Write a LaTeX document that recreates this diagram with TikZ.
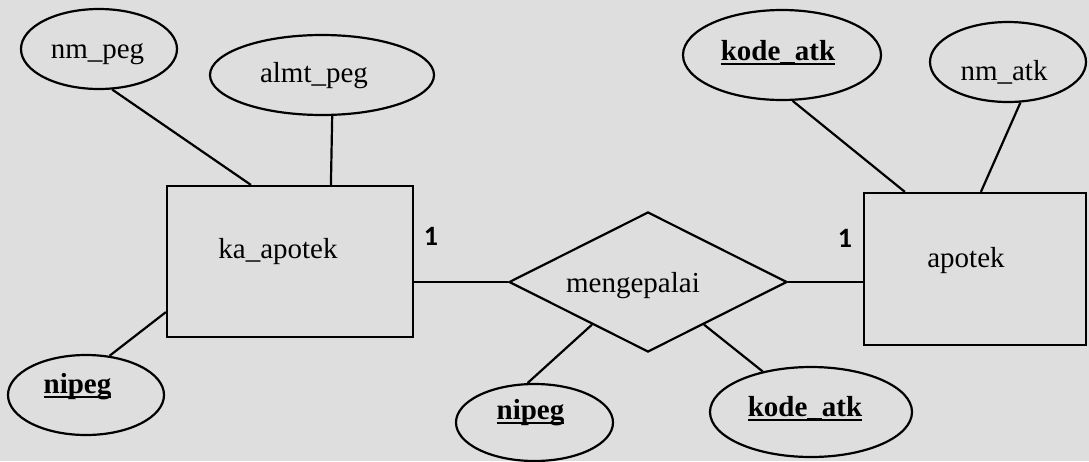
\documentclass[tikz,border=0pt]{standalone}
\usepackage{fontspec}
\setmainfont{Liberation Serif}
\newfontfamily\cardfont{Carlito}
\usetikzlibrary{shapes.geometric,calc}
\definecolor{marble}{RGB}{222,222,222}
\newcommand{\keyattr}[1]{\setbox0\hbox{\bfseries #1}\rlap{\rule[-5pt]{\wd0}{2pt}}\box0}
\begin{document}
\begin{tikzpicture}[x=1pt,y=-1pt,
  conn/.style={line width=2.2pt, black},
  attr/.style={ellipse, draw, line width=2.2pt, inner sep=0pt},
  entity/.style={rectangle, draw, line width=2.2pt, inner sep=0pt},
  rel/.style={diamond, draw, line width=2.2pt, inner sep=0pt, aspect=2},
  lbl/.style={anchor=base, inner sep=0pt, font=\fontsize{29}{34}\selectfont},
  card/.style={anchor=base, inner sep=0pt}]
\fill[marble] (0,0) rectangle (1089,461);
\useasboundingbox (0,0) rectangle (1089,461);

% entities
\node[entity, minimum width=246pt, minimum height=151pt] (ka) at (290,261.5) {};
\node[entity, minimum width=222pt, minimum height=152pt] (ap) at (975,269) {};
% relationship
\node[rel, minimum width=278pt, minimum height=140pt] (dia) at (648,282) {};
% attributes
\node[attr, minimum width=156pt, minimum height=80pt] (nmpeg) at (99,49) {};
\node[attr, minimum width=224pt, minimum height=80pt] (almt) at (322,75) {};
\node[attr, minimum width=156pt, minimum height=80pt] (nipegL) at (86,395) {};
\node[attr, minimum width=157pt, minimum height=77pt] (nipegB) at (534.5,422.5) {};
\node[attr, minimum width=202pt, minimum height=90pt] (kodeB) at (811,412) {};
\node[attr, minimum width=198pt, minimum height=90pt] (kodeT) at (782,55) {};
\node[attr, minimum width=156pt, minimum height=80pt] (nmatk) at (1008,62) {};

% texts
\node[lbl] (tnmpeg) at (97.5,58) {nm\_peg};
\node[lbl] (talmt) at (314,82) {almt\_peg};
\node[lbl] (tka) at (278,258) {ka\_apotek};
\node[lbl] (tnipegL) at (77.5,393) {\keyattr{nipeg}};
\node[lbl] (tdia) at (633,292) {mengepalai};
\node[lbl] (tnipegB) at (530.5,419) {\keyattr{nipeg}};
\node[lbl] (tkodeB) at (805,416) {\keyattr{kode\_atk}};
\node[lbl] (tkodeT) at (778,60) {\keyattr{kode\_atk}};
\node[lbl] (tnmatk) at (1004,80) {nm\_atk};
\node[lbl] (tap) at (966,267) {apotek};
\node[card] (c1) at (431,245) {\cardfont\bfseries\fontsize{28}{32}\selectfont 1};
\node[card] (c2) at (845,247) {\cardfont\bfseries\fontsize{28}{32}\selectfont 1};

% connectors
\draw[conn] (nmpeg.-72) -- ([xshift=85pt]ka.north west);
\draw[conn] (almt.-76) -- ([xshift=165pt]ka.north west);
\draw[conn] (nipegL.59) -- ([yshift=26pt]ka.south west);
\draw[conn] ([yshift=-20.5pt]ka.east) -- (dia.west);
\draw[conn] (dia.east) -- ([yshift=-13pt]ap.west);
\draw[conn] ($(dia.west)!0.6!(dia.south)$) -- (nipegB.100);
\draw[conn] ($(dia.east)!0.6!(dia.south)$) -- (kodeB.140);
\draw[conn] (kodeT.-77) -- ([xshift=42pt]ap.north west);
\draw[conn] (nmatk.-73) -- ([xshift=118pt]ap.north west);
\end{tikzpicture}
\end{document}
